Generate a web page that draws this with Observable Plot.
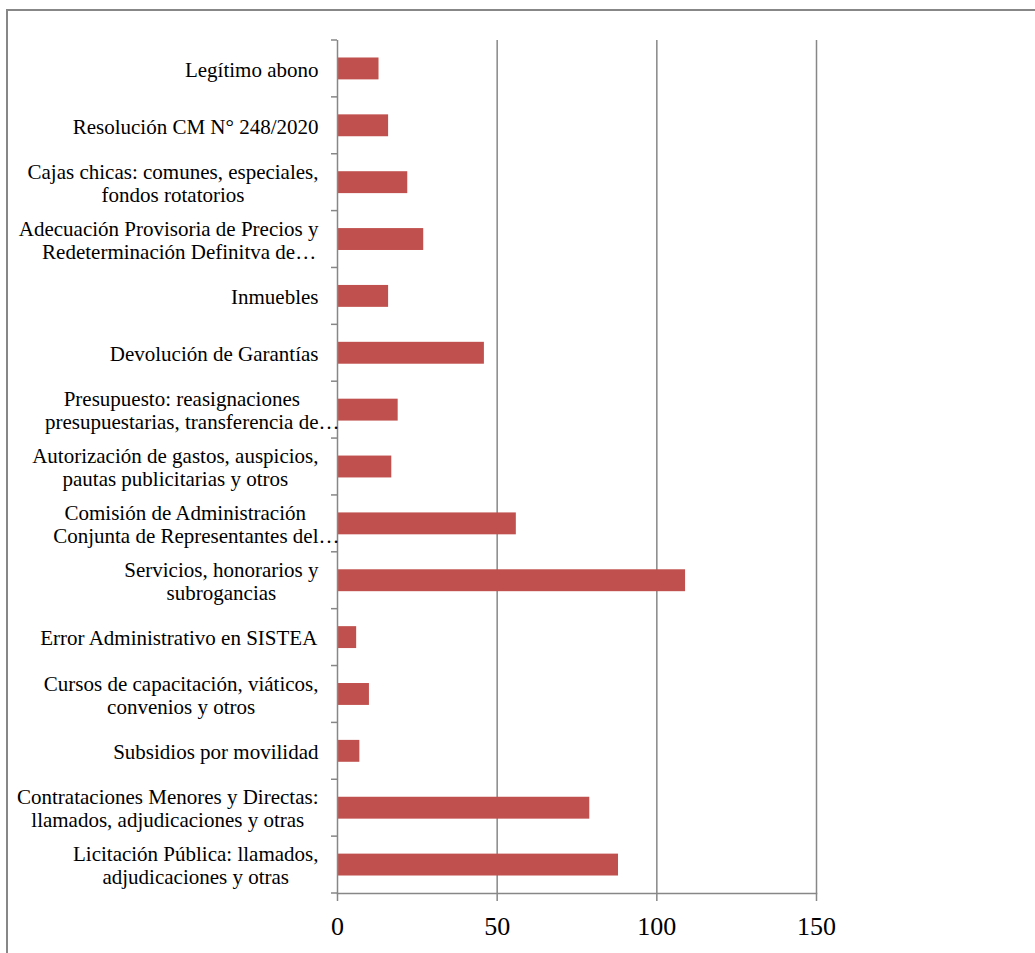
<!DOCTYPE html>
<html>
<head>
<meta charset="utf-8">
<script src="https://cdn.jsdelivr.net/npm/d3@7"></script>
<script src="https://cdn.jsdelivr.net/npm/@observablehq/plot@0.6"></script>
<style>
  html, body { margin: 0; padding: 0; background: #fff; }
  #chart { position: relative; width: 1035px; height: 953px; overflow: hidden; }
  #chart svg { position: absolute; left: 0; top: 0; }
  #border { position: absolute; left: 6px; top: 9px; width: 1060px; height: 980px;
            border: 2px solid #878787; box-sizing: border-box; pointer-events: none; }
</style>
</head>
<body>
<div id="chart"></div>
<script>
// Categories, top to bottom; "\n" marks the line breaks of each label
const categories = [
  "Legítimo abono",
  "Resolución CM N° 248/2020",
  "Cajas chicas: comunes, especiales,\nfondos rotatorios",
  "Adecuación Provisoria de Precios y\nRedeterminación Definitva de…",
  "Inmuebles",
  "Devolución de Garantías",
  "Presupuesto: reasignaciones\npresupuestarias, transferencia de…",
  "Autorización de gastos, auspicios,\npautas publicitarias y otros",
  "Comisión de Administración\nConjunta de Representantes del…",
  "Servicios, honorarios y\nsubrogancias",
  "Error Administrativo en SISTEA",
  "Cursos de capacitación, viáticos,\nconvenios y otros",
  "Subsidios por movilidad",
  "Contrataciones Menores y Directas:\nllamados, adjudicaciones y otras",
  "Licitación Pública: llamados,\nadjudicaciones y otras"
];
const counts = [13, 16, 22, 27, 16, 46, 19, 17, 56, 109, 6, 10, 7, 79, 88];
const xTicks = [0, 50, 100, 150];
const xGrid = [50, 100, 150];

const rows = categories.map((category, i) => ({category, value: counts[i]}));

const FONT = "Liberation Serif";
const LABEL_SIZE = 21;
const LINE_HEIGHT = 23;
const TICK_SIZE = 26;
const GRAY = "#878787";
const BAR = "#C0504D";
const P_INNER = 0.615;
const LABEL_GAP = 19;

// Measure label lines so each multi-line label is centred as a block
// and right-aligned against the axis; a trailing ellipsis hangs over.
const ctx = document.createElement("canvas").getContext("2d");
ctx.font = `${LABEL_SIZE}px "${FONT}"`;
const textWidth = s => ctx.measureText(s).width;

const labelMarks = [];
categories.forEach(category => {
  const lines = category.split("\n");
  const cores = lines.map(l => l.replace(/…$/, ""));
  const blockWidth = d3.max(cores, textWidth);
  const center = -LABEL_GAP - blockWidth / 2;
  lines.forEach((line, j) => {
    labelMarks.push(Plot.text([category], {
      x: () => 0,
      y: d => d,
      text: () => line,
      textAnchor: "start",
      dx: center - textWidth(cores[j]) / 2,
      dy: 1 + (j - (lines.length - 1) / 2) * LINE_HEIGHT,
      fontSize: LABEL_SIZE,
      fontFamily: FONT,
      fill: "black"
    }));
  });
});

// Short ticks on the category axis at the band boundaries
function bandTicks(index, scales, values, dims) {
  const y = scales.y;
  const step = y(categories[1]) - y(categories[0]);
  const inset = step * P_INNER / 2;
  const ys = categories.map(c => y(c) - inset);
  ys.push(y(categories[categories.length - 1]) - inset + step);
  const g = d3.create("svg:g");
  g.selectAll("line").data(ys).join("line")
    .attr("x1", dims.marginLeft - 6)
    .attr("x2", dims.marginLeft)
    .attr("y1", d => d)
    .attr("y2", d => d)
    .attr("stroke", GRAY)
    .attr("stroke-width", 1.5);
  return g.node();
}

const chart = Plot.plot({
  width: 1035,
  height: 953,
  marginLeft: 337,
  marginRight: 219,
  marginTop: 40,
  marginBottom: 60,
  style: {fontFamily: FONT, background: "transparent", color: "black"},
  x: {domain: [0, 150], axis: null},
  y: {domain: categories, axis: null, round: false, paddingInner: P_INNER, paddingOuter: P_INNER / 2},
  marks: [
    Plot.ruleX(xGrid, {stroke: GRAY, strokeWidth: 1.5}),
    Plot.barX(rows, {x: "value", y: "category", fill: BAR}),
    Plot.ruleX([0], {stroke: GRAY, strokeWidth: 1.5}),
    Plot.frame({anchor: "bottom", stroke: GRAY, strokeWidth: 1.5}),
    Plot.axisX(xTicks, {
      tickSize: 8,
      tickPadding: 15,
      fontSize: TICK_SIZE,
      fontFamily: FONT,
      stroke: GRAY,
      strokeWidth: 1.5,
      color: "black",
      label: null
    }),
    bandTicks,
    ...labelMarks
  ]
});

const root = document.getElementById("chart");
root.appendChild(chart);
const border = document.createElement("div");
border.id = "border";
root.appendChild(border);
</script>
</body>
</html>
